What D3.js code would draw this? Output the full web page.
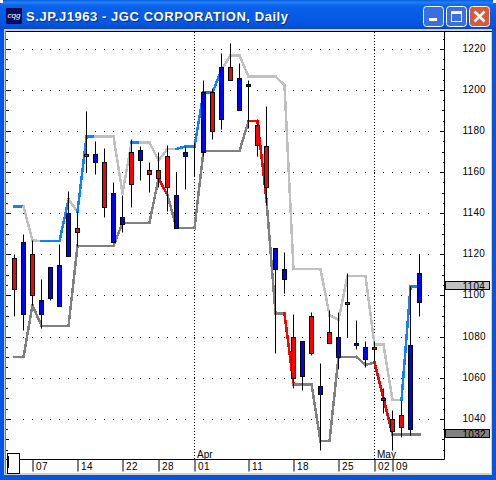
<!DOCTYPE html>
<html><head><meta charset="utf-8">
<script src="https://cdnjs.cloudflare.com/ajax/libs/d3/7.8.5/d3.min.js"></script>
<style>html,body{margin:0;padding:0;background:#fff;overflow:hidden}svg{display:block}</style>
</head><body><svg id="c" width="496" height="480"></svg>
<script>
const titleText = "S.JP.J1963 - JGC CORPORATION, Daily";
const opens  = [1118,1091,1120,1091,1099,1095,1119,1133,1169,1165,1165,1126,1135,1170,1166,1161,1161,1168,1133,1168,1170,1170,1199,1186,1211,1190,1202,1183,1172.5,1113,1108,1080,1061,1090,1052,1082,1070,1097,1076,1069,1075,1050,1040,1042,1035,1097];
const highs  = [1120.4,1130,1127,1108,1114,1125,1151,1141,1189.5,1175,1171.5,1155,1149,1176,1172.5,1165,1170,1173,1160,1172.6,1174.6,1205,1200.7,1218,1223,1213,1205,1186,1192.4,1123,1121,1091,1078,1092,1067,1093,1092,1111,1088,1078,1078,1055,1044.5,1049,1104.5,1120];
const lows   = [1090,1083,1095.6,1084,1098,1095,1119,1124,1160,1159,1138,1126,1131,1143,1156,1150.5,1153,1141,1133,1152,1158,1168,1176,1181,1205,1190,1181.6,1168,1144,1072,1101,1055,1054,1071,1025,1077,1064,1080,1074,1065,1068,1043,1025,1031,1032,1090];
const closes = [1103,1126,1100,1098,1114,1115,1140,1131,1168,1169,1143,1150,1138,1154,1171,1159,1157,1153,1149,1170,1170,1199,1180,1211,1205,1206,1203,1173,1153,1123,1113,1060,1078,1072,1056,1077,1080,1096,1077,1075,1074,1049,1034,1036,1076,1111];
const upperBand = [1143.5,1143.5,1127,1126.7,1126.7,1126.7,1147,1141,1177.5,1177.5,1177.5,1177.5,1150,1174.6,1174.6,1174.6,1166,1171.5,1171.5,1172.8,1172.8,1199,1199,1210,1217,1217,1206.7,1206.7,1206.7,1206.7,1202.6,1113,1113,1113,1113,1090.7,1088.3,1109.7,1109.7,1109.7,1076.3,1076.3,1049.4,1049.4,1104.5,1104.5];
const lowerBand = [1070.3,1070.3,1095.6,1085.4,1085.4,1085.4,1085.4,1124.4,1124.4,1124.4,1124.4,1124.4,1135.6,1135.6,1135.6,1135.6,1157.2,1149,1133,1133,1133,1170.5,1170.5,1170.5,1170.5,1170.5,1185,1185,1146.7,1091.4,1091.4,1057,1057,1057,1029.4,1029.4,1070.4,1070.4,1070.4,1066.4,1067.7,1050.2,1032.5,1032.5,1032.5,1032.5];
// Per-segment trend state of each band (segment i joins bar i and bar i+1)
const upperTrend = [1,0,0,1,1,1,0,1,1,0,0,0,0,1,0,0,0,0,1,1,1,1,1,0,0,0,0,0,0,0,0,0,0,0,0,0,0,0,0,0,0,0,0,1,1];
const lowerTrend = [0,0,0,0,0,0,0,0,0,0,0,0,0,0,0,0,1,0,0,0,0,0,0,0,0,0,1,1,0,0,1,0,0,0,0,0,0,0,0,0,1,1,0,0,0];
const priceTicks = [1040,1060,1080,1100,1120,1140,1160,1180,1200,1220];
const dayTicks   = [[2,"07"],[7,"14"],[12,"22"],[16,"28"],[20,"01"],[26,"11"],[31,"18"],[36,"25"],[40,"02"],[42,"09"]];
const monthTicks = [[20,"Apr"],[40,"May"]];
const lastTags   = [[1104,"#c0c0c0"],[1032,"#808080"]];

const svg = d3.select("#c");
const defs = svg.append("defs");
const grad = defs.append("linearGradient").attr("id","tb").attr("x1",0).attr("y1",0).attr("x2",0).attr("y2",1);
[[0,"#0a5fe0"],[.08,"#1f7df5"],[.2,"#0a62ea"],[.75,"#0457e0"],[1,"#0448c8"]].forEach(d=>grad.append("stop").attr("offset",d[0]).attr("stop-color",d[1]));

const font = "'Liberation Sans',Arial,sans-serif";
// window chrome
svg.append("rect").attr("width",496).attr("height",480).attr("fill","#0555e0");
svg.append("path").attr("d","M0 8Q0 0 8 0H488Q496 0 496 8V30H0Z").attr("fill","url(#tb)");
svg.append("rect").attr("x",0).attr("y",0).attr("width",3).attr("height",3).attr("fill","#fff");
svg.append("rect").attr("x",493).attr("y",0).attr("width",3).attr("height",3).attr("fill","#fff");
svg.append("rect").attr("x",4).attr("y",29).attr("width",488).attr("height",446).attr("fill","#d4d0c8");
svg.append("rect").attr("x",6).attr("y",32).attr("width",485).attr("height",441).attr("fill","#fff");
svg.append("rect").attr("x",5).attr("y",31).attr("width",487).attr("height",1).attr("fill","#000");
svg.append("rect").attr("x",5).attr("y",31).attr("width",1).attr("height",443).attr("fill","#808080");
// icon
svg.append("rect").attr("x",6).attr("y",8).attr("width",16).attr("height",16).attr("fill","#0c0c58");
svg.append("text").attr("x",14).attr("y",18).attr("text-anchor","middle").attr("fill","#fff").attr("font-family",font).attr("font-size",8).attr("font-style","italic").text("cqg");
// title
[[1,1,"#0a2a90"],[0,0,"#fff"]].forEach(d=>svg.append("text").attr("x",26+d[0]).attr("y",21+d[1]).attr("fill",d[2]).attr("font-family",font).attr("font-weight","bold").attr("font-size",13).attr("textLength",262).attr("lengthAdjust","spacing").text(titleText));
// buttons
function btn(x,f){const g=svg.append("g");g.append("rect").attr("x",x+.5).attr("y",6.5).attr("width",20).attr("height",20).attr("rx",3).attr("fill",f).attr("stroke","#fff");return g;}
let b=btn(423,"#3b6fe0");b.append("rect").attr("x",429).attr("y",18).attr("width",8).attr("height",3).attr("fill","#fff");
b=btn(446,"#3b6fe0");b.append("rect").attr("x",451.5).attr("y",11.5).attr("width",10).attr("height",10).attr("fill","none").attr("stroke","#fff");b.append("rect").attr("x",451).attr("y",11).attr("width",11).attr("height",3).attr("fill","#fff");
b=btn(469,"#d9593a");b.append("path").attr("d","M474.5 11.5L484.5 21.5M484.5 11.5L474.5 21.5").attr("stroke","#fff").attr("stroke-width",2.6);

// scales
const x = d3.scaleLinear().domain([0,45]).range([14.5,419.5]);
const y = d3.scaleLinear().domain([1040,1220]).range([419.3,49.3]);
const py = v => Math.round(y(v)-.5)+.5;
const plotRight = 444.5, axisY = 459.5, plotTop = 32;

// gridlines
const grid = svg.append("g");
grid.selectAll("g").data(priceTicks).join("g").each(function(p){
  const slots = d3.range(1,47);
  d3.select(this).selectAll("rect").data(slots).join("rect")
    .attr("x",i=>Math.floor(x(i))).attr("y",Math.floor(py(p))).attr("width",1).attr("height",1).attr("fill","#000");
});
monthTicks.forEach(([i])=>{
  grid.append("line").attr("x1",x(i)).attr("x2",x(i)).attr("y1",plotTop).attr("y2",axisY)
    .attr("stroke","#000").attr("stroke-dasharray","1 2").attr("shape-rendering","crispEdges");
});

// bands
const bandG = svg.append("g").attr("fill","none").attr("stroke-width",2.5).attr("stroke-linecap","square").attr("shape-rendering","crispEdges");
function band(vals,trend,base,hi){
  const segs = d3.pairs(vals.map((v,i)=>[x(i),y(v)])).map((s,i)=>({s,t:trend[i]}));
  const line = d3.line();
  bandG.selectAll(null).data(segs).join("path").attr("d",d=>line(d.s)).attr("stroke",d=>d.t?hi:base);
}
band(upperBand,upperTrend,"#c0c0c0","#0a84ff");
band(lowerBand,lowerTrend,"#808080","#ff0000");

// candles
const bars = svg.append("g").selectAll("g").data(d3.range(opens.length)).join("g");
bars.append("line").attr("x1",i=>x(i)).attr("x2",i=>x(i)).attr("y1",i=>py(highs[i])).attr("y2",i=>py(lows[i])).attr("stroke","#000");
bars.append("rect").attr("x",i=>x(i)-2).attr("width",4)
  .attr("y",i=>py(Math.max(opens[i],closes[i])))
  .attr("height",i=>py(Math.min(opens[i],closes[i]))-py(Math.max(opens[i],closes[i])))
  .attr("fill",i=>closes[i]>=opens[i]?"#0000ff":"#ff0000").attr("stroke","#000");

// price axis, right edge and left edge
const yAxis = svg.append("g");
function ticks(gen,vals,len,tx){
  const g = yAxis.append("g").attr("transform",`translate(${tx},0)`).call(gen.scale(y).tickValues(vals).tickSize(len).tickSizeOuter(0).tickFormat(""));
  g.select(".domain").remove();
  g.selectAll("line").attr("stroke","#000").attr("shape-rendering","crispEdges");
  g.selectAll(".tick").attr("transform",function(d){return `translate(0,${py(d)})`;});
}
const tickVals = d3.range(1025,1241,5).filter(v=>y(v)<457&&y(v)>33);
const v20 = tickVals.filter(v=>v%20===0), v10 = tickVals.filter(v=>v%10===0&&v%20!==0), v5 = tickVals.filter(v=>v%10!==0);
[[v20,5],[v10,3],[v5,2]].forEach(([v,l])=>{
  ticks(d3.axisLeft(),v,l,plotRight);
  ticks(d3.axisRight(),v,l,6);
});
svg.append("line").attr("x1",plotRight).attr("x2",plotRight).attr("y1",plotTop).attr("y2",axisY).attr("stroke","#000");

const labels = svg.append("g").attr("font-family",font).attr("font-size",10).attr("fill","#000");
labels.selectAll(null).data(priceTicks).join("text").attr("x",462.5).attr("y",p=>py(p)+2).attr("letter-spacing",.3).text(p=>p);

// last value tags
const tags = svg.append("g").attr("font-family",font).attr("font-size",10).attr("fill","#000");
lastTags.forEach(([p,c])=>{
  const cy=py(p);
  tags.append("rect").attr("x",445.5).attr("y",cy-6).attr("width",44).attr("height",8).attr("fill",c).attr("stroke","#000");
  tags.append("text").attr("x",462.5).attr("y",cy+2).attr("letter-spacing",.3).text(p);
});

// time axis
const xg = svg.append("g").attr("transform",`translate(0,${axisY})`)
  .call(d3.axisBottom(x).tickValues(dayTicks.map(d=>d[0])).tickSize(12).tickSizeOuter(0).tickFormat(""));
xg.select(".domain").remove();
xg.selectAll("line").attr("stroke","#000");
svg.append("line").attr("x1",6).attr("x2",plotRight).attr("y1",axisY).attr("y2",axisY).attr("stroke","#000");
labels.selectAll(null).data(dayTicks).join("text").attr("x",d=>x(d[0])+3.5).attr("y",470).attr("letter-spacing",.5).text(d=>d[1]);
labels.selectAll(null).data(monthTicks).join("text").attr("x",d=>x(d[0])+2.5).attr("y",458).text(d=>d[1]);

// scroll box
svg.append("rect").attr("x",7.5).attr("y",453.5).attr("width",12).attr("height",20).attr("fill","#fff").attr("stroke","#000");
svg.append("line").attr("x1",8.5).attr("x2",8.5).attr("y1",456).attr("y2",468).attr("stroke","#000");
</script></body></html>
